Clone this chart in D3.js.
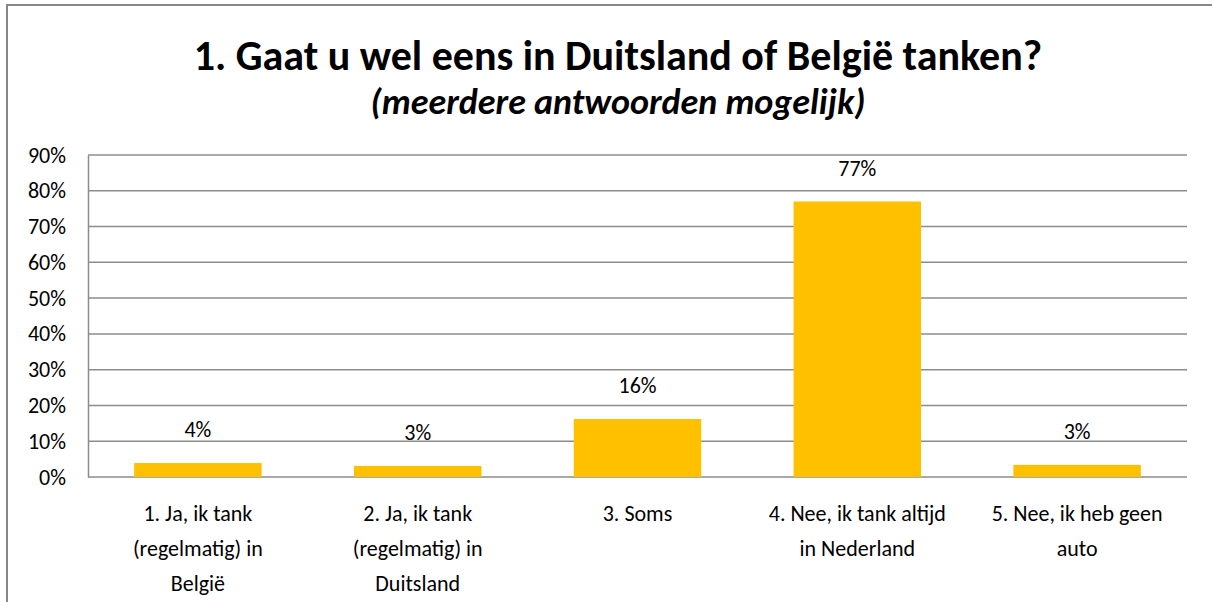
<!DOCTYPE html>
<html>
<head>
<meta charset="utf-8">
<script src="https://cdn.jsdelivr.net/npm/d3@7"></script>
<style>
  body { margin: 0; background: #fff; }
  text { font-family: Carlito, Calibri, Lato, sans-serif; }
</style>
</head>
<body>
<div id="chart"></div>
<script>
// data
var categories = [
  ["1. Ja, ik tank", "(regelmatig) in", "België"],
  ["2. Ja, ik tank", "(regelmatig) in", "Duitsland"],
  ["3. Soms"],
  ["4. Nee, ik tank altijd", "in Nederland"],
  ["5. Nee, ik heb geen", "auto"]
];
var values = [0.039, 0.031, 0.162, 0.77, 0.034];
var valueLabels = ["4%", "3%", "16%", "77%", "3%"];
var yTicks = [0, 0.1, 0.2, 0.3, 0.4, 0.5, 0.6, 0.7, 0.8, 0.9];

var W = 1212, H = 602;
var margin = {top: 155, left: 88, right: 25, bottom: 125};
var width = W - margin.left - margin.right,
    height = H - margin.top - margin.bottom;

var svg = d3.select("#chart").append("svg")
    .attr("width", W)
    .attr("height", H);

// chart frame
svg.append("rect")
    .attr("x", 7).attr("y", 5)
    .attr("width", W + 10).attr("height", H + 10)
    .attr("fill", "none")
    .attr("stroke", "#878787")
    .attr("stroke-width", 2);

// titles
svg.append("text")
    .attr("x", 618).attr("y", 70)
    .attr("text-anchor", "middle")
    .style("font-size", "42px").style("font-weight", "bold")
    .text("1. Gaat u wel eens in Duitsland of België tanken?");
svg.append("text")
    .attr("x", 618).attr("y", 114)
    .attr("text-anchor", "middle")
    .style("font-size", "36px").style("font-weight", "bold").style("font-style", "italic")
    .text("(meerdere antwoorden mogelijk)");

var g = svg.append("g")
    .attr("transform", "translate(" + margin.left + "," + margin.top + ")");

var x = d3.scaleBand()
    .domain(d3.range(values.length))
    .range([0, width])
    .paddingInner(0.42)
    .paddingOuter(0.21);

var y = d3.scaleLinear()
    .domain([0, 0.9])
    .range([height, 0]);

// gridlines
g.append("g")
  .selectAll("line")
  .data(yTicks)
  .enter()
  .append("line")
    .attr("x1", 0).attr("x2", width)
    .attr("y1", function(d) { return y(d); })
    .attr("y2", function(d) { return y(d); })
    .attr("stroke", "#8c8c8c")
    .attr("stroke-width", 1.5);

// y axis
var yAxis = g.append("g")
    .call(d3.axisLeft(y).tickValues(yTicks).tickFormat(d3.format(".0%")).tickSize(0).tickPadding(22));
yAxis.select(".domain").attr("stroke", "#8c8c8c").attr("stroke-width", 1.5);
yAxis.selectAll("text")
    .style("font-size", "22px")
    .style("font-family", "Carlito, Calibri, Lato, sans-serif")
    .attr("fill", "#000");

// bars
g.append("g")
  .selectAll("rect")
  .data(values)
  .enter()
  .append("rect")
    .attr("x", function(d, i) { return x(i); })
    .attr("y", function(d) { return y(d); })
    .attr("width", x.bandwidth())
    .attr("height", function(d) { return height - y(d); })
    .attr("fill", "#ffc000");

// value labels
g.append("g")
  .selectAll("text")
  .data(values)
  .enter()
  .append("text")
    .attr("x", function(d, i) { return x(i) + x.bandwidth() / 2; })
    .attr("y", function(d) { return y(d) - 26; })
    .attr("text-anchor", "middle")
    .style("font-size", "22px")
    .text(function(d, i) { return valueLabels[i]; });

// category labels
var cat = g.append("g")
  .selectAll("text")
  .data(categories)
  .enter()
  .append("text")
    .attr("x", function(d, i) { return x(i) + x.bandwidth() / 2; })
    .attr("y", height + 44)
    .attr("text-anchor", "middle")
    .style("font-size", "22px");
cat.selectAll("tspan")
  .data(function(d) { return d; })
  .enter()
  .append("tspan")
    .attr("x", function() { return d3.select(this.parentNode).attr("x"); })
    .attr("dy", function(d, i) { return i === 0 ? 0 : 35; })
    .text(function(d) { return d; });
</script>
</body>
</html>
